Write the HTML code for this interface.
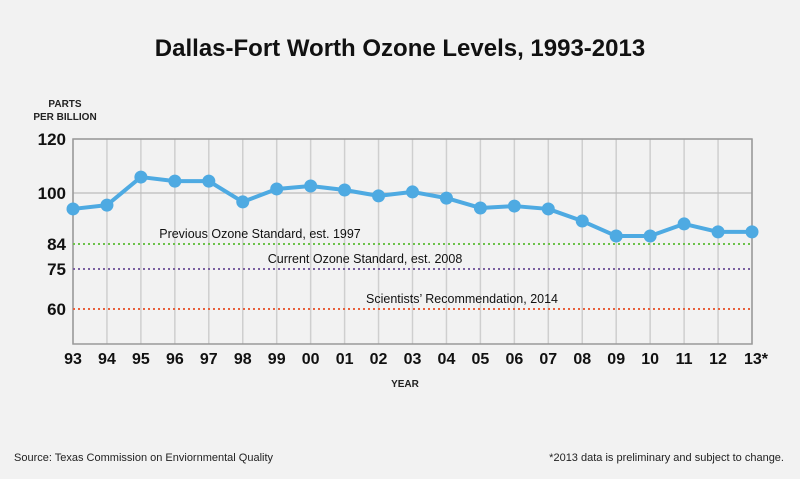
<!DOCTYPE html>
<html><head><meta charset="utf-8"><style>
body{margin:0;background:#f2f2f2;width:800px;height:474px;overflow:hidden;font-family:"Liberation Sans",sans-serif}
</style></head><body>
<svg width="800" height="474" id="chart" xmlns="http://www.w3.org/2000/svg">
<text x="400" y="56" text-anchor="middle" font-size="24" font-weight="bold" fill="#111">Dallas-Fort Worth Ozone Levels, 1993-2013</text>
<text x="65" y="107" text-anchor="middle" font-size="10" font-weight="bold" fill="#222">PARTS</text>
<text x="65" y="120" text-anchor="middle" font-size="10" font-weight="bold" fill="#222">PER BILLION</text>
<text x="405" y="387" text-anchor="middle" font-size="10" font-weight="bold" fill="#222">YEAR</text>
<text x="14" y="461" font-size="11" fill="#222">Source: Texas Commission on Enviornmental Quality</text>
<text x="784" y="461" text-anchor="end" font-size="11" fill="#222">*2013 data is preliminary and subject to change.</text>
<g id="plot"></g>
</svg>
<script>
const years=["93","94","95","96","97","98","99","00","01","02","03","04","05","06","07","08","09","10","11","12","13*"];
const ozone=[95,96.2,105.9,104.4,104.4,97.2,101.5,102.6,101.1,99.1,100.4,98.4,95.3,95.9,95,91.2,86.5,86.5,90.3,87.8,87.8];
const yTicks=[120,100,84,75,60];
const refValues=[84,75,60];
const refLabels=["Previous Ozone Standard, est. 1997","Current Ozone Standard, est. 2008","Scientists\u2019 Recommendation, 2014"];
const refColors=["#6cc24a","#7a5fa0","#e8603c"];
const refLabelX=[260,365,462];

const L=73,R=752,T=139,B=344;
const anchorsV=[120,100,84,75,60,47];
const anchorsP=[139,193,244,269,309,344];
function y(v){for(let i=0;i<anchorsV.length-1;i++){const a=anchorsV[i],b=anchorsV[i+1];if(v<=a&&v>=b||i===anchorsV.length-2){return anchorsP[i]+(a-v)/(a-b)*(anchorsP[i+1]-anchorsP[i]);}}return anchorsP[0];}
function x(i){return L+i*(R-L)/(years.length-1);}
const NS="http://www.w3.org/2000/svg";const g=document.getElementById('plot');
function mk(t,a){const e=document.createElementNS(NS,t);for(const k in a)e.setAttribute(k,a[k]);g.appendChild(e);return e;}
years.forEach((yr,i)=>{
 const l=mk('line',{x1:x(i),x2:x(i),y1:T,y2:B,stroke:'#cfcfcf','stroke-width':1.5});
 
 
 const t=mk('text',{x:x(i)+(i===years.length-1?4:0),y:364,'text-anchor':'middle','font-size':16,'font-weight':'bold',fill:'#111'});
 t.textContent=yr;
 
 
});
yTicks.forEach(v=>{
 if(v===100||v===120){const l=mk('line',{x1:L,x2:R,y1:y(v),y2:y(v),stroke:'#bdbdbd','stroke-width':1.2});
 
 }
 const t=mk('text',{x:66,y:y(v)+6,'text-anchor':'end','font-size':17,'font-weight':'bold',fill:'#111'});
 t.textContent=v;
 
 
});
const box=mk('rect',{x:L,y:T,width:R-L,height:B-T,fill:'none',stroke:'#999','stroke-width':1.5});


refValues.forEach((v,i)=>{
 const l=mk('line',{x1:L,x2:R,y1:y(v),y2:y(v),stroke:refColors[i],'stroke-width':2,'stroke-dasharray':'2,3'});
 
 
 const t=mk('text',{x:refLabelX[i],y:y(v)-6,'text-anchor':'middle','font-size':12.5,fill:'#111'});
 t.textContent=refLabels[i];
 
 
});
const p=mk('polyline',{points:ozone.map((v,i)=>x(i)+','+y(v)).join(' '),fill:'none',stroke:'#4eaae2','stroke-width':4,'stroke-linejoin':'round'});


ozone.forEach((v,i)=>{
 const c=mk('circle',{cx:x(i),cy:y(v),r:6.5,fill:'#4eaae2'});
 
 
});
</script>
</body></html>
